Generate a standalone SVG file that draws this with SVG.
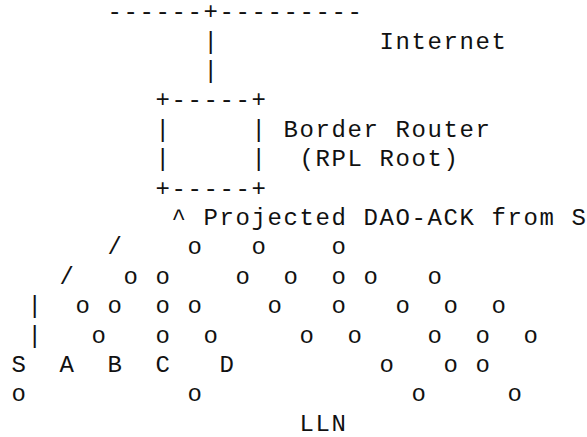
<svg xmlns="http://www.w3.org/2000/svg" width="587" height="437" viewBox="0 0 587 437">
<style>
.t{font-family:"Liberation Mono","Courier New",monospace;font-size:24px;letter-spacing:1.6px;fill:#111;white-space:pre}
</style>
<rect width="587" height="437" fill="#fff"/>
<g id="internet">
<text class="t" x="107.5" y="19.2">------+---------</text>
<text class="t" x="379.5" y="48.6">Internet</text>
</g>
<g id="connectors">
<text class="t" x="203.5" y="48.6">|</text>
<text class="t" x="203.5" y="78">|</text>
<text class="t" x="107.5" y="254.4">/</text>
<text class="t" x="59.5" y="283.8">/</text>
<text class="t" x="27.5" y="313.2">|</text>
<text class="t" x="27.5" y="342.6">|</text>
</g>
<g id="border-router">
<text class="t" x="155.5" y="107.4">+-----+</text>
<text class="t" x="155.5" y="136.8">|</text>
<text class="t" x="251.5" y="136.8">|</text>
<text class="t" x="155.5" y="166.2">|</text>
<text class="t" x="251.5" y="166.2">|</text>
<text class="t" x="155.5" y="195.6">+-----+</text>
<text class="t" x="283.5" y="136.8">Border Router</text>
<text class="t" x="299.5" y="166.2">(RPL Root)</text>
</g>
<g id="dao-ack">
<text class="t" x="171.5" y="225">^</text>
<text class="t" x="203.5" y="225">Projected DAO-ACK from S</text>
</g>
<g id="lln">
<g id="row9">
<text class="t" x="187.5" y="254.4">o</text>
<text class="t" x="251.5" y="254.4">o</text>
<text class="t" x="331.5" y="254.4">o</text>
</g>
<g id="row10">
<text class="t" x="123.5" y="283.8">o</text>
<text class="t" x="155.5" y="283.8">o</text>
<text class="t" x="235.5" y="283.8">o</text>
<text class="t" x="283.5" y="283.8">o</text>
<text class="t" x="331.5" y="283.8">o</text>
<text class="t" x="363.5" y="283.8">o</text>
<text class="t" x="427.5" y="283.8">o</text>
</g>
<g id="row11">
<text class="t" x="75.5" y="313.2">o</text>
<text class="t" x="107.5" y="313.2">o</text>
<text class="t" x="155.5" y="313.2">o</text>
<text class="t" x="187.5" y="313.2">o</text>
<text class="t" x="267.5" y="313.2">o</text>
<text class="t" x="331.5" y="313.2">o</text>
<text class="t" x="395.5" y="313.2">o</text>
<text class="t" x="443.5" y="313.2">o</text>
<text class="t" x="491.5" y="313.2">o</text>
</g>
<g id="row12">
<text class="t" x="91.5" y="342.6">o</text>
<text class="t" x="155.5" y="342.6">o</text>
<text class="t" x="203.5" y="342.6">o</text>
<text class="t" x="299.5" y="342.6">o</text>
<text class="t" x="347.5" y="342.6">o</text>
<text class="t" x="427.5" y="342.6">o</text>
<text class="t" x="475.5" y="342.6">o</text>
<text class="t" x="523.5" y="342.6">o</text>
</g>
<g id="row13">
<text id="S" class="t" x="11.5" y="372">S</text>
<text id="A" class="t" x="59.5" y="372">A</text>
<text id="B" class="t" x="107.5" y="372">B</text>
<text id="C" class="t" x="155.5" y="372">C</text>
<text id="D" class="t" x="219.5" y="372">D</text>
<text class="t" x="379.5" y="372">o</text>
<text class="t" x="443.5" y="372">o</text>
<text class="t" x="475.5" y="372">o</text>
</g>
<g id="row14">
<text class="t" x="11.5" y="401.4">o</text>
<text class="t" x="187.5" y="401.4">o</text>
<text class="t" x="411.5" y="401.4">o</text>
<text class="t" x="507.5" y="401.4">o</text>
</g>
<text id="LLN" class="t" x="299.5" y="430.8">LLN</text>
</g>
</svg>
